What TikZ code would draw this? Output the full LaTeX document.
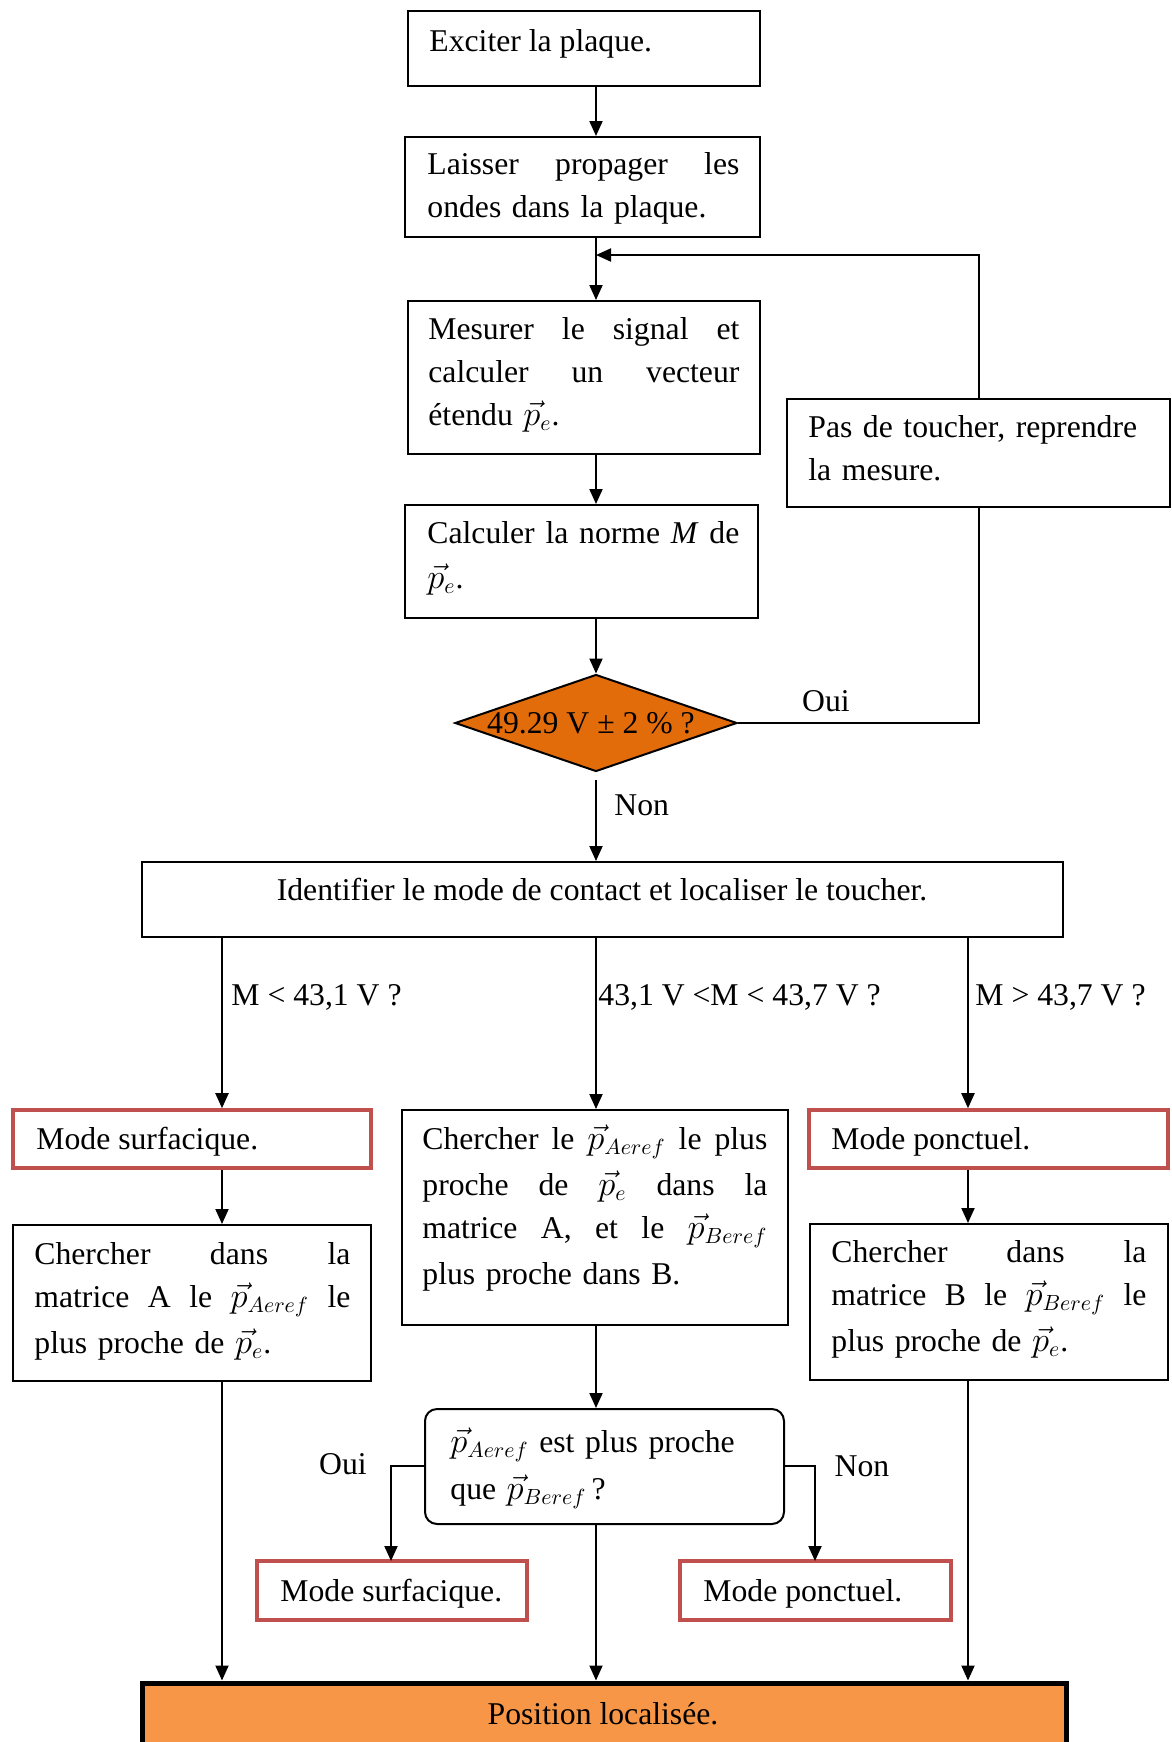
\documentclass[tikz,border=0pt]{standalone}
\usepackage{fontspec}
\setmainfont{Liberation Serif}
\usetikzlibrary{arrows.meta,fit,shapes.geometric}
\definecolor{redb}{HTML}{C0504D}
\definecolor{orgd}{HTML}{E36C0A}
\definecolor{orgl}{HTML}{F79646}
\newcommand{\fs}{\fontsize{15.85}{21.5}\selectfont}
\begin{document}
\begin{tikzpicture}[x=0.5pt,y=-0.5pt,
  box/.style={draw, line width=1pt, inner sep=0pt},
  redbox/.style={draw=redb, line width=1.8pt, inner sep=0pt},
  txt/.style={inner sep=0pt, anchor=base west, font=\fs, align=left},
  lbl/.style={inner sep=0pt, anchor=base, font=\fs},
  arr/.style={line width=1pt, -{Triangle[length=7.5pt,width=6.5pt]}},
  ln/.style={line width=1pt}]
\useasboundingbox (0,0) rectangle (1172,1742);
\fill[white] (0,0) rectangle (1172,1742);
% columns
\coordinate (cL) at (222,0);
\coordinate (cM) at (596,0);
\coordinate (cR) at (968,0);
% boxes
\node[box, fit={(408,11) (760,86)}] (b1) {};
\node[box, fit={(405,137) (760,237)}] (b2) {};
\node[box, fit={(408,301) (760,454)}] (b3) {};
\node[box, fit={(405,505) (758,618)}] (b4) {};
\node[box, fit={(787,399) (1170,507)}] (pas) {};
\node[diamond, draw, line width=1pt, fill=orgd, inner sep=0pt, minimum width=141pt, minimum height=48.5pt] (dia) at (596,723) {};
\node[box, fit={(142,862) (1063,937)}] (b5) {};
\node[redbox, fit={(13,1110) (371,1168)}] (ms1) {};
\node[box, fit={(402,1110) (788,1325)}] (bm) {};
\node[redbox, fit={(809,1110) (1168,1168)}] (mp1) {};
\node[box, fit={(13,1225) (371,1381)}] (bl) {};
\node[box, fit={(810,1224) (1168,1380)}] (br) {};
\node[box, rounded corners=6pt, fit={(425,1409) (784,1524)}] (rq) {};
\node[redbox, fit={(257,1561) (527,1620)}] (ms2) {};
\node[redbox, fit={(680,1561) (951,1620)}] (mp2) {};
\node[draw, line width=2.5pt, fill=orgl, inner sep=0pt, fit={(142,1683) (1066,1770)}] (fin) {};
% texts
\node[txt] (t1) at (429,51) {Exciter la plaque.};
\node[txt, text width=156pt] (t2) at (427,174) {Laisser\hfill propager\hfill les\\ ondes dans la plaque.};
\node[txt, text width=155.5pt] (t3) at (428,339) {Mesurer\hfill le\hfill signal\hfill et\\ calculer\hfill un\hfill vecteur\\ étendu $\vec{p}_e$.};
\node[txt, text width=156pt] (t4) at (427,543) {Calculer\hfill la\hfill norme\hfill \textit{M}\hfill de\\[1pt] $\vec{p}_e$.};
\node[txt, text width=180pt] (tpas) at (808,437) {Pas de toucher, reprendre\\ la mesure.};
\node[lbl] (tdia) at (591,733) {49.29 V ± 2 \% ?};
\node[lbl] (t5) at (602,900) {Identifier le mode de contact et localiser le toucher.};
\node[txt] (tms1) at (36,1149) {Mode surfacique.};
\node[txt] (tmp1) at (831,1149) {Mode ponctuel.};
\node[txt, text width=172.5pt] (tbm) at (422,1149) {Chercher\hfill le\hfill $\vec{p}_{Aeref}$\hfill le\hfill plus\\[1.5pt] proche\hfill de\hfill $\vec{p}_e$\hfill dans\hfill la\\ matrice\hfill A,\hfill et\hfill le\hfill $\vec{p}_{Beref}$\\[1.5pt] plus proche dans B.};
\node[txt, text width=158pt] (tbl) at (34,1264) {Chercher\hfill dans\hfill la\\ matrice\hfill A\hfill le\hfill $\vec{p}_{Aeref}$\hfill le\\[1.5pt] plus proche de $\vec{p}_e$.};
\node[txt, text width=157.5pt] (tbr) at (831,1262) {Chercher\hfill dans\hfill la\\ matrice\hfill B\hfill le\hfill $\vec{p}_{Beref}$\hfill le\\[1.5pt] plus proche de $\vec{p}_e$.};
\node[txt, text width=160pt] (trq) at (450,1452) {$\vec{p}_{Aeref}$ est plus proche\\[2pt] que $\vec{p}_{Beref}$\,?};
\node[txt] (tms2) at (280,1601) {Mode surfacique.};
\node[txt] (tmp2) at (703,1601) {Mode ponctuel.};
\node[lbl] (tfin) at (603,1724) {Position localisée.};
% labels
\node[lbl] (loui1) at (826,711) {Oui};
\node[txt] (lnon1) at (614,815) {Non};
\node[txt] (lc1) at (231,1005) {M < 43,1 V ?};
\node[txt] (lc2) at (598,1005) {43,1 V <M < 43,7 V ?};
\node[txt] (lc3) at (975,1005) {M > 43,7 V ?};
\node[lbl] (loui2) at (343,1474) {Oui};
\node[lbl] (lnon2) at (862,1476) {Non};
% connectors
\coordinate (j1) at (596,255);
\draw[arr] (cM |- b1.south) -- (cM |- b2.north);
\draw[arr] (cM |- b2.south) -- (cM |- b3.north);
\draw[arr] (pas.north) |- (j1);
\draw[arr] (cM |- b3.south) -- (cM |- b4.north);
\draw[arr] (cM |- b4.south) -- (dia.north);
\draw[ln] (dia.east) -| (pas.south);
\draw[arr, shorten <=3.5pt] (dia.south) -- (cM |- b5.north);
\draw[arr] (cL |- b5.south) -- (cL |- ms1.north);
\draw[arr] (cM |- b5.south) -- (cM |- bm.north);
\draw[arr] (cR |- b5.south) -- (cR |- mp1.north);
\draw[arr] (cL |- ms1.south) -- (cL |- bl.north);
\draw[arr] (cR |- mp1.south) -- (cR |- br.north);
\draw[arr] (cM |- bm.south) -- (cM |- rq.north);
\coordinate (oy) at (0,1466);
\draw[arr] (rq.west |- oy) -| (391,1561);
\draw[arr] (rq.east |- oy) -| (815,1561);
\draw[arr] (cL |- bl.south) -- (cL |- fin.north);
\draw[arr] (cM |- rq.south) -- (cM |- fin.north);
\draw[arr] (cR |- br.south) -- (cR |- fin.north);
\end{tikzpicture}
\end{document}
